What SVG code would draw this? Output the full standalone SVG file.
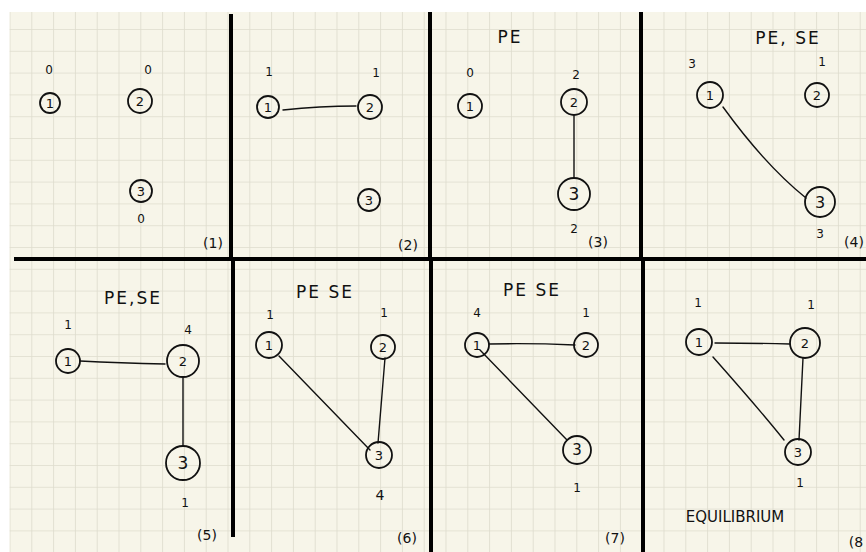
<svg xmlns="http://www.w3.org/2000/svg" width="866" height="552" viewBox="0 0 866 552">
<defs>
<pattern id="grid" x="9.5" y="7.2" width="21.8" height="21.8" patternUnits="userSpaceOnUse">
<rect width="21.8" height="21.8" fill="#f7f5e9"/>
<path d="M0 0V21.8M0 0H21.8" stroke="#dedccd" stroke-width="1.6" fill="none"/>
</pattern>
<style>
.n{fill:none;stroke:#111;stroke-width:1.8}
.e{fill:none;stroke:#111;stroke-width:1.4;stroke-linecap:round}
.d{stroke:#000;stroke-width:4;fill:none}
.t{font-family:"DejaVu Sans",sans-serif;font-size:13px;fill:#111;text-anchor:middle;dominant-baseline:central}
.c{font-family:"DejaVu Sans",sans-serif;font-size:12px;fill:#111;text-anchor:middle;dominant-baseline:central}
.h{font-family:"DejaVu Sans",sans-serif;font-size:17px;fill:#111;text-anchor:middle;dominant-baseline:central;letter-spacing:2px}
.p{font-family:"DejaVu Sans",sans-serif;font-size:14px;fill:#111;text-anchor:middle;dominant-baseline:central}
</style>
</defs>
<rect width="866" height="552" fill="#ffffff"/>
<rect x="9.5" y="12" width="856.5" height="540" fill="url(#grid)"/>

<g id="dividers">
<path class="d" d="M231 14V259M430 12V259M641 12V259M14 259H866M233 259V537M431 259V552M643 259V552"/>
</g>

<g id="connectors">
<path class="e" d="M283 110Q320 106 356 106"/>
<path class="e" d="M574 116V178"/>
<path class="e" d="M723 107Q765 165 806 198"/>
<path class="e" d="M80 361Q120 363 165 364"/>
<path class="e" d="M183 378V446"/>
<path class="e" d="M279 356L370 450"/>
<path class="e" d="M385 358L378 443"/>
<path class="e" d="M489 344Q530 343 575 345"/>
<path class="e" d="M480 350L567 440"/>
<path class="e" d="M715 343Q752 343 790 344"/>
<path class="e" d="M803 358L799 440"/>
<path class="e" d="M713 357Q760 410 784 440"/>
</g>

<g id="panel1">
<g id="p1n1"><circle class="n" cx="50" cy="103" r="10"/><text class="t" x="50" y="103">1</text><text class="c" x="49" y="70">0</text></g>
<g id="p1n2"><circle class="n" cx="140" cy="101" r="12"/><text class="t" x="140" y="101">2</text><text class="c" x="148" y="70">0</text></g>
<g id="p1n3"><circle class="n" cx="141" cy="191" r="11"/><text class="t" x="141" y="191">3</text><text class="c" x="141" y="219">0</text></g>
<text class="p" x="213" y="243">(1)</text>
</g>

<g id="panel2">
<g id="p2n1"><circle class="n" cx="268" cy="107" r="11"/><text class="t" x="268" y="107">1</text><text class="c" x="269" y="72">1</text></g>
<g id="p2n2"><circle class="n" cx="370" cy="107" r="12"/><text class="t" x="370" y="107">2</text><text class="c" x="376" y="73">1</text></g>
<g id="p2n3"><circle class="n" cx="369" cy="200" r="11"/><text class="t" x="369" y="200">3</text></g>
<text class="p" x="408" y="245">(2)</text>
</g>

<g id="panel3">
<text class="h" x="510" y="37">PE</text>
<g id="p3n1"><circle class="n" cx="470" cy="106" r="12"/><text class="t" x="470" y="106">1</text><text class="c" x="470" y="73">0</text></g>
<g id="p3n2"><circle class="n" cx="574" cy="102" r="13"/><text class="t" x="574" y="102">2</text><text class="c" x="576" y="75">2</text></g>
<g id="p3n3"><circle class="n" cx="574" cy="194" r="16"/><text class="t" x="574" y="194" style="font-size:17px">3</text><text class="c" x="574" y="229">2</text></g>
<text class="p" x="598" y="242">(3)</text>
</g>

<g id="panel4">
<text class="h" x="788" y="38">PE, SE</text>
<g id="p4n1"><circle class="n" cx="710" cy="95" r="13"/><text class="t" x="710" y="95">1</text><text class="c" x="692" y="64">3</text></g>
<g id="p4n2"><circle class="n" cx="817" cy="95" r="12"/><text class="t" x="817" y="95">2</text><text class="c" x="822" y="62">1</text></g>
<g id="p4n3"><circle class="n" cx="820" cy="202" r="15"/><text class="t" x="820" y="202" style="font-size:16px">3</text><text class="c" x="820" y="234">3</text></g>
<text class="p" x="854" y="242">(4)</text>
</g>

<g id="panel5">
<text class="h" x="133" y="298">PE,SE</text>
<g id="p5n1"><circle class="n" cx="68" cy="361" r="12"/><text class="t" x="68" y="361">1</text><text class="c" x="68" y="325">1</text></g>
<g id="p5n2"><circle class="n" cx="183" cy="361" r="16"/><text class="t" x="183" y="361">2</text><text class="c" x="188" y="330">4</text></g>
<g id="p5n3"><circle class="n" cx="183" cy="463" r="17"/><text class="t" x="183" y="463" style="font-size:17px">3</text><text class="c" x="185" y="503">1</text></g>
<text class="p" x="207" y="535">(5)</text>
</g>

<g id="panel6">
<text class="h" x="325" y="292">PE SE</text>
<g id="p6n1"><circle class="n" cx="269" cy="345" r="13"/><text class="t" x="269" y="345">1</text><text class="c" x="270" y="315">1</text></g>
<g id="p6n2"><circle class="n" cx="383" cy="347" r="12"/><text class="t" x="383" y="347">2</text><text class="c" x="384" y="313">1</text></g>
<g id="p6n3"><circle class="n" cx="379" cy="455" r="13"/><text class="t" x="379" y="455">3</text><text class="p" x="380" y="495">4</text></g>
<text class="p" x="407" y="538">(6)</text>
</g>

<g id="panel7">
<text class="h" x="532" y="290">PE SE</text>
<g id="p7n1"><circle class="n" cx="477" cy="345" r="12"/><text class="t" x="477" y="345">1</text><text class="c" x="477" y="313">4</text></g>
<g id="p7n2"><circle class="n" cx="586" cy="345" r="12"/><text class="t" x="586" y="345">2</text><text class="c" x="586" y="313">1</text></g>
<g id="p7n3"><circle class="n" cx="577" cy="450" r="14"/><text class="t" x="577" y="450" style="font-size:15px">3</text><text class="c" x="577" y="488">1</text></g>
<text class="p" x="615" y="538">(7)</text>
</g>

<g id="panel8">
<g id="p8n1"><circle class="n" cx="699" cy="342" r="13"/><text class="t" x="699" y="342">1</text><text class="c" x="698" y="303">1</text></g>
<g id="p8n2"><circle class="n" cx="805" cy="343" r="15"/><text class="t" x="805" y="343">2</text><text class="c" x="811" y="305">1</text></g>
<g id="p8n3"><circle class="n" cx="798" cy="452" r="13"/><text class="t" x="798" y="452">3</text><text class="c" x="800" y="483">1</text></g>
<text class="h" x="735" y="517" style="font-size:15px;letter-spacing:0">EQUILIBRIUM</text>
<text class="p" x="856" y="542">(8</text>
</g>
</svg>
